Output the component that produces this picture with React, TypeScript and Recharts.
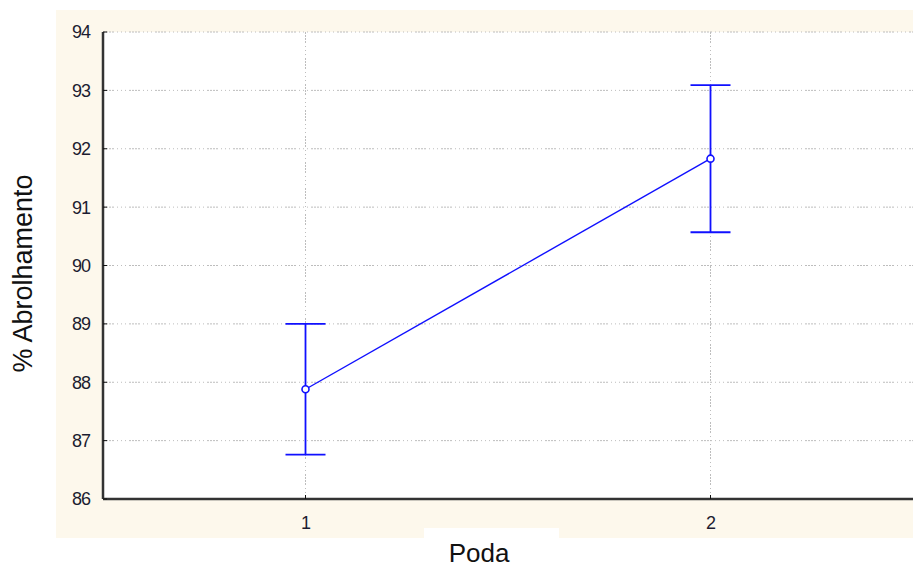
import React from 'react';
import { LineChart, Line, XAxis, YAxis, CartesianGrid, ErrorBar } from 'recharts';

// Pruning treatment levels and mean sprouting (%) with their interval half-widths
const podaLevels = [1, 2];
const meanSprouting = [87.88, 91.83];
const intervalHalfWidth = [1.12, 1.26];
const yTicks = [86, 87, 88, 89, 90, 91, 92, 93, 94];
const xTicks = [1, 2];

const data = podaLevels.map((p, i) => ({
  poda: p,
  mean: meanSprouting[i],
  err: intervalHalfWidth[i],
}));

const FONT = '"Liberation Sans", Arial, sans-serif';
const BLUE = '#1010ff';
const FRAME = '#333333';
const GRID = '#bdbdbd';
const GRID_DASH = '2 1 2 1 2 1 2 3 1 3 1 3 1 3';

const tickStyle = { fill: '#1c1c30', fontSize: 18, fontFamily: FONT, letterSpacing: -1 };

const blank = () => <g />;

export default function App() {
  return (
    <div style={{ position: 'absolute', left: 0, top: 0, width: 913, height: 568, overflow: 'hidden', background: '#ffffff' }}>
      <div style={{ position: 'absolute', left: 56, top: 10, width: 857, height: 528, background: '#fdf8ec' }} />
      <div style={{ position: 'absolute', left: 424, top: 528, width: 135, height: 10, background: '#ffffff' }} />
      <div style={{ position: 'absolute', left: 0, top: 0 }}>
        <LineChart
          width={913}
          height={568}
          data={data}
          margin={{ top: 32, right: 0, bottom: 0, left: 0 }}
        >
          <CartesianGrid
            fill="#ffffff"
            stroke={GRID}
            strokeDasharray={GRID_DASH}
            horizontalValues={yTicks}
            verticalValues={xTicks}
          />
          <XAxis
            dataKey="poda"
            type="number"
            domain={[0.5, 2.5]}
            ticks={xTicks}
            height={69}
            axisLine={{ stroke: FRAME, strokeWidth: 2.5 }}
            tickLine={{ stroke: '#111' }}
            tickSize={-4}
            tickMargin={21}
            tick={tickStyle}
            label={(props: any) => {
              const vb = props.viewBox;
              return (
                <text
                  x={vb.x + vb.width / 2 - 29}
                  y={562}
                  textAnchor="middle"
                  fontSize={26}
                  fontFamily={FONT}
                  fill="#111"
                >
                  Poda
                </text>
              );
            }}
          />
          <XAxis
            xAxisId="top"
            orientation="top"
            dataKey="poda"
            type="number"
            domain={[0.5, 2.5]}
            ticks={xTicks}
            height={0}
            axisLine={{ stroke: FRAME, strokeWidth: 2.5 }}
            tickLine={{ stroke: '#111' }}
            tickSize={-4}
            tick={blank}
          />
          <YAxis
            type="number"
            domain={[86, 94]}
            ticks={yTicks}
            width={103}
            interval={0}
            axisLine={{ stroke: FRAME, strokeWidth: 2.5 }}
            tickLine={{ stroke: '#111' }}
            tickSize={-4}
            tickMargin={17}
            tick={tickStyle}
            label={(props: any) => {
              const vb = props.viewBox;
              const cy = vb.y + vb.height / 2 + 8;
              return (
                <text
                  x={23}
                  y={cy}
                  transform={`rotate(-90 23 ${cy})`}
                  textAnchor="middle"
                  dominantBaseline="central"
                  fontSize={27}
                  fontFamily={FONT}
                  fill="#111"
                >
                  % Abrolhamento
                </text>
              );
            }}
          />
          <YAxis
            yAxisId="right"
            orientation="right"
            type="number"
            domain={[86, 94]}
            ticks={yTicks}
            width={0}
            interval={0}
            axisLine={false}
            tickLine={{ stroke: '#111' }}
            tickSize={-4}
            tick={blank}
          />
          <Line
            dataKey="mean"
            stroke={BLUE}
            strokeWidth={1.4}
            isAnimationActive={false}
            dot={{ r: 3.5, fill: '#ffffff', stroke: BLUE, strokeWidth: 1.6 }}
            activeDot={false}
          >
            <ErrorBar dataKey="err" direction="y" width={20} stroke={BLUE} strokeWidth={1.8} isAnimationActive={false} />
          </Line>
        </LineChart>
      </div>
    </div>
  );
}
